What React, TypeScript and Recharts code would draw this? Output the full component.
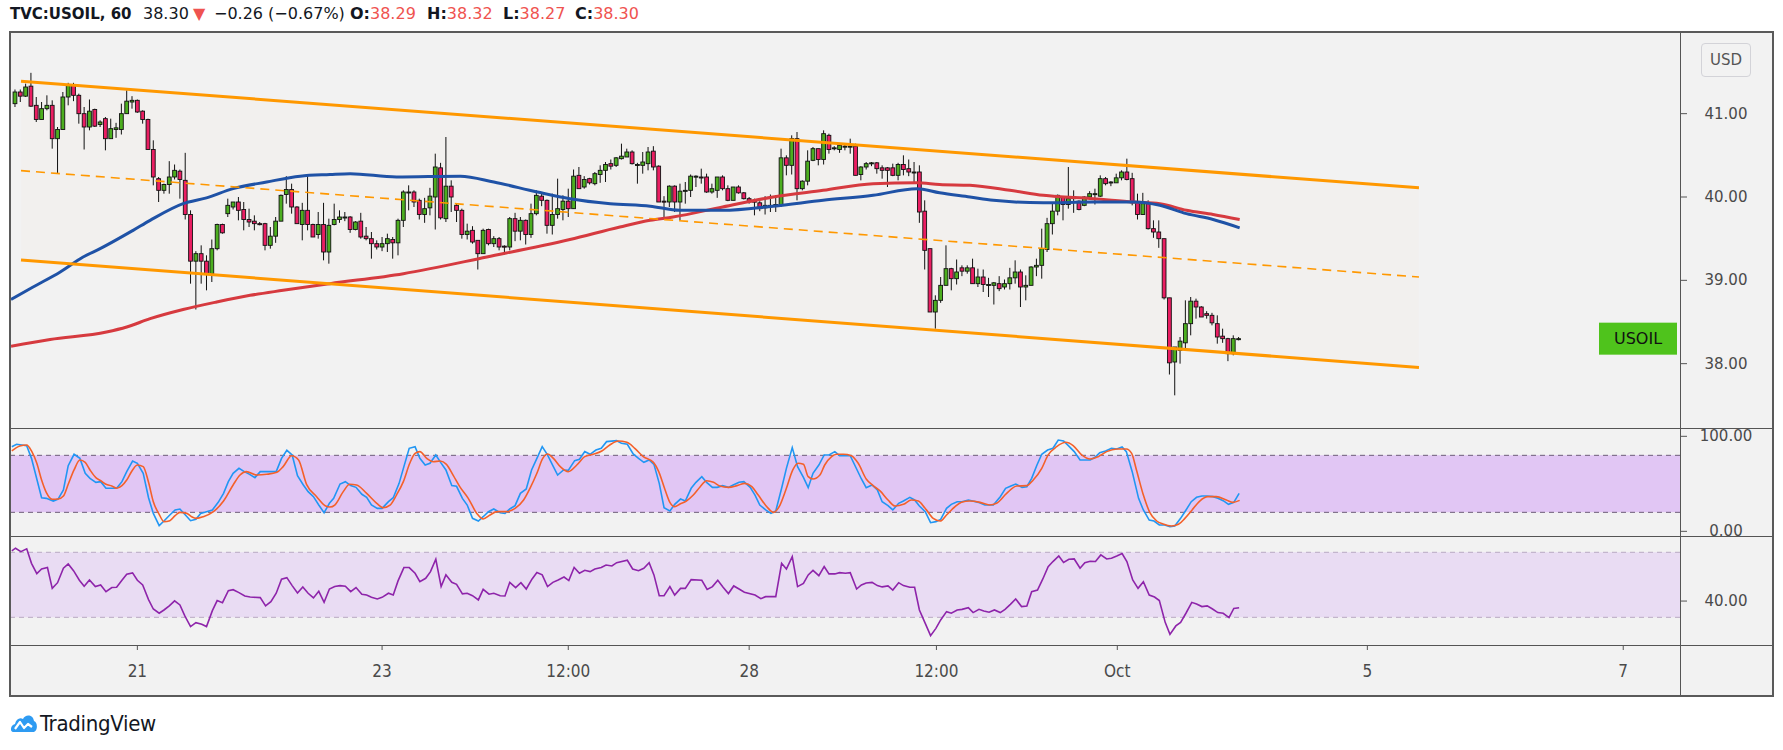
import React from 'react';
import { Area, Bar, ComposedChart, Line, ReferenceArea, ReferenceLine, XAxis, YAxis } from 'recharts';

// hourly candles, index 0 = first bar on the left
const opens = [
  41.12, 41.26, 41.21, 41.33, 41.1, 40.93, 41.06, 41.1, 40.7, 40.81,
  41.2, 41.34, 41.22, 41.0, 40.84, 41.05, 40.87, 40.94, 40.7, 40.81,
  40.81, 41.0, 41.14, 41.16, 41.03, 40.93, 40.57, 40.22, 40.08, 40.15,
  40.24, 40.31, 40.2, 39.79, 39.23, 39.32, 39.23, 39.08, 39.38, 39.67,
  39.8, 39.88, 39.94, 39.85, 39.73, 39.71, 39.68, 39.68, 39.42, 39.53,
  39.71, 40.03, 40.09, 39.88, 39.67, 39.84, 39.67, 39.55, 39.67, 39.34,
  39.67, 39.73, 39.75, 39.76, 39.61, 39.71, 39.53, 39.5, 39.44, 39.4,
  39.44, 39.49, 39.45, 39.72, 40.05, 40.06, 39.96, 39.79, 39.87, 40.0,
  40.35, 39.74, 40.13, 39.9, 39.84, 39.55, 39.6, 39.48, 39.32, 39.61,
  39.44, 39.5, 39.41, 39.4, 39.74, 39.59, 39.72, 39.55, 39.8, 40.01,
  39.96, 39.66, 39.79, 39.85, 39.95, 39.86, 40.26, 40.12, 40.22, 40.16,
  40.27, 40.32, 40.4, 40.38, 40.46, 40.48, 40.54, 40.38, 40.38, 40.4,
  40.55, 40.37, 39.95, 39.94, 40.13, 39.94, 40.07, 40.08, 40.24, 40.24,
  40.24, 40.06, 40.08, 40.24, 40.1, 39.96, 40.12, 40.05, 39.98, 39.95,
  39.93, 39.87, 39.9, 39.9, 39.9, 40.47, 40.38, 40.7, 40.1, 40.19,
  40.44, 40.58, 40.45, 40.74, 40.58, 40.57, 40.6, 40.6, 40.61, 40.27,
  40.36, 40.4, 40.41, 40.35, 40.35, 40.35, 40.26, 40.39, 40.34, 40.3,
  40.3, 39.83, 39.38, 38.62, 38.76, 38.94, 39.14, 39.02, 39.15, 39.11,
  39.15, 38.96, 39.04, 38.95, 38.94, 38.96, 38.92, 38.96, 39.03, 39.1,
  38.92, 38.94, 39.16, 39.18, 39.37, 39.68, 39.83, 40.0, 39.91, 39.98,
  39.95, 39.9, 40.0, 40.03, 40.01, 40.22, 40.17, 40.17, 40.23, 40.3,
  40.22, 39.94, 39.79, 39.92, 39.62, 39.58, 39.5, 38.79, 38.02, 38.16,
  38.25, 38.48, 38.75, 38.68, 38.6, 38.58, 38.48, 38.33, 38.3, 38.12,
  38.29,
];
const highs = [
  41.29, 41.29, 41.36, 41.49, 41.2, 41.14, 41.22, 41.16, 40.84, 41.26,
  41.37, 41.37, 41.24, 41.08, 41.17, 41.06, 40.92, 40.96, 40.94, 40.89,
  41.12, 41.28, 41.21, 41.17, 41.04, 40.94, 40.68, 40.24, 40.16, 40.43,
  40.39, 40.33, 40.53, 39.84, 39.35, 39.42, 39.3, 39.49, 39.68, 39.68,
  39.98, 39.94, 40.0, 39.94, 39.86, 39.78, 39.7, 39.69, 39.64, 39.76,
  40.03, 40.25, 40.16, 39.89, 39.93, 40.26, 39.68, 39.82, 39.93, 39.74,
  39.92, 39.84, 39.82, 39.77, 39.71, 39.81, 39.64, 39.58, 39.48, 39.52,
  39.56, 39.52, 39.74, 40.08, 40.14, 40.08, 39.98, 39.99, 40.11, 40.52,
  40.41, 40.72, 40.2, 39.92, 39.86, 39.68, 39.65, 39.48, 39.62, 39.62,
  39.53, 39.52, 39.42, 39.76, 39.81, 39.76, 39.73, 39.92, 40.08, 40.04,
  39.97, 40.04, 40.22, 40.02, 40.1, 40.33, 40.36, 40.25, 40.23, 40.3,
  40.38, 40.42, 40.45, 40.48, 40.64, 40.58, 40.56, 40.41, 40.54, 40.6,
  40.61, 40.38, 40.01, 40.14, 40.14, 40.16, 40.18, 40.27, 40.26, 40.34,
  40.28, 40.16, 40.24, 40.26, 40.14, 40.12, 40.14, 40.06, 40.0, 39.98,
  39.95, 40.01, 40.03, 40.02, 40.58, 40.5, 40.74, 40.78, 40.2, 40.56,
  40.6, 40.58, 40.8, 40.76, 40.61, 40.63, 40.64, 40.7, 40.64, 40.37,
  40.42, 40.42, 40.42, 40.38, 40.36, 40.4, 40.41, 40.5, 40.45, 40.42,
  40.38, 39.96, 39.38, 38.82, 39.04, 39.42, 39.15, 39.25, 39.18, 39.18,
  39.26, 39.14, 39.13, 39.03, 38.98, 39.05, 39.01, 39.15, 39.24, 39.13,
  39.06, 39.17, 39.26, 39.62, 39.75, 39.92, 40.03, 40.01, 40.36, 40.08,
  39.96, 40.01, 40.07, 40.1, 40.26, 40.24, 40.19, 40.28, 40.32, 40.46,
  40.29, 40.04, 40.05, 39.96, 39.72, 39.72, 39.5, 38.79, 38.2, 38.32,
  38.76, 38.8, 38.78, 38.69, 38.63, 38.61, 38.58, 38.42, 38.31, 38.34,
  38.32,
];
const lows = [
  41.08, 41.14, 41.2, 41.08, 40.9, 40.93, 41.04, 40.58, 40.28, 40.81,
  41.1, 41.15, 40.88, 40.57, 40.8, 40.84, 40.84, 40.56, 40.7, 40.71,
  40.75, 41.0, 41.06, 41.01, 40.88, 40.57, 40.14, 39.94, 40.04, 40.04,
  40.21, 39.98, 39.73, 38.96, 38.65, 38.96, 38.88, 38.98, 39.36, 39.56,
  39.76, 39.85, 39.72, 39.6, 39.64, 39.6, 39.66, 39.36, 39.38, 39.45,
  39.71, 39.92, 39.8, 39.68, 39.48, 39.6, 39.52, 39.5, 39.24, 39.2,
  39.66, 39.69, 39.71, 39.57, 39.6, 39.5, 39.48, 39.26, 39.37, 39.35,
  39.34, 39.26, 39.3, 39.64, 39.84, 39.88, 39.73, 39.69, 39.78, 39.61,
  39.73, 39.7, 39.82, 39.7, 39.5, 39.49, 39.44, 39.13, 39.32, 39.42,
  39.4, 39.36, 39.31, 39.36, 39.47, 39.48, 39.43, 39.51, 39.78, 39.89,
  39.56, 39.55, 39.74, 39.72, 39.76, 39.86, 40.1, 40.1, 40.15, 40.14,
  40.17, 40.18, 40.33, 40.36, 40.45, 40.48, 40.39, 40.16, 40.28, 40.32,
  40.32, 39.94, 39.74, 39.88, 39.82, 39.72, 39.92, 40.0, 40.12, 40.16,
  40.05, 40.04, 39.99, 40.08, 39.95, 39.96, 40.04, 39.97, 39.92, 39.78,
  39.83, 39.79, 39.82, 39.82, 39.88, 40.26, 40.27, 39.96, 40.08, 40.14,
  40.43, 40.38, 40.39, 40.52, 40.56, 40.53, 40.56, 40.52, 40.26, 40.2,
  40.33, 40.37, 40.28, 40.22, 40.12, 40.25, 40.2, 40.26, 40.25, 40.18,
  39.69, 39.13, 38.62, 38.42, 38.73, 38.94, 38.88, 38.95, 39.05, 39.08,
  38.96, 38.92, 38.86, 38.8, 38.71, 38.87, 38.89, 38.89, 38.96, 38.68,
  38.76, 38.94, 39.05, 39.02, 39.34, 39.55, 39.78, 39.72, 39.86, 39.81,
  39.84, 39.89, 39.98, 39.91, 40.0, 40.14, 40.13, 40.17, 40.2, 40.2,
  39.9, 39.73, 39.79, 39.61, 39.51, 39.39, 38.77, 37.87, 37.62, 38.0,
  38.18, 38.34, 38.54, 38.56, 38.54, 38.46, 38.24, 38.25, 38.03, 38.1,
  38.28,
];
const closes = [
  41.26, 41.21, 41.32, 41.09, 40.93, 41.06, 41.1, 40.7, 40.81, 41.2,
  41.34, 41.22, 41.0, 40.84, 41.03, 40.85, 40.9, 40.7, 40.82, 40.83,
  41.0, 41.15, 41.16, 41.02, 40.93, 40.57, 40.24, 40.08, 40.15, 40.24,
  40.32, 40.21, 39.79, 39.23, 39.32, 39.23, 39.08, 39.38, 39.67, 39.57,
  39.9, 39.94, 39.84, 39.73, 39.7, 39.68, 39.67, 39.42, 39.53, 39.71,
  40.02, 40.09, 39.88, 39.68, 39.84, 39.67, 39.52, 39.67, 39.34, 39.66,
  39.73, 39.76, 39.76, 39.61, 39.7, 39.52, 39.5, 39.44, 39.4, 39.44,
  39.5, 39.45, 39.72, 40.06, 40.06, 39.94, 39.79, 39.86, 40.01, 40.36,
  39.75, 40.13, 40.0, 39.84, 39.55, 39.59, 39.46, 39.32, 39.6, 39.44,
  39.5, 39.4, 39.4, 39.74, 39.59, 39.72, 39.55, 39.8, 40.02, 39.96,
  39.66, 39.79, 39.86, 39.95, 39.86, 40.25, 40.1, 40.21, 40.17, 40.28,
  40.32, 40.39, 40.37, 40.47, 40.49, 40.54, 40.4, 40.39, 40.42, 40.54,
  40.36, 39.94, 39.94, 40.13, 39.94, 40.07, 40.08, 40.25, 40.25, 40.23,
  40.06, 40.1, 40.24, 40.1, 39.96, 40.12, 40.05, 39.98, 39.94, 39.94,
  39.86, 39.9, 39.9, 39.91, 40.47, 40.38, 40.7, 40.1, 40.19, 40.43,
  40.58, 40.45, 40.76, 40.57, 40.59, 40.62, 40.61, 40.61, 40.26, 40.36,
  40.4, 40.41, 40.34, 40.32, 40.32, 40.26, 40.39, 40.33, 40.3, 40.3,
  39.82, 39.36, 38.62, 38.76, 38.94, 39.14, 39.02, 39.1, 39.11, 39.15,
  38.96, 39.04, 38.95, 38.95, 38.97, 38.9, 38.96, 39.03, 39.1, 38.92,
  38.94, 39.16, 39.18, 39.38, 39.68, 39.83, 40.02, 39.91, 39.98, 40.0,
  39.85, 40.0, 40.04, 40.04, 40.22, 40.16, 40.18, 40.23, 40.3, 40.21,
  39.93, 39.79, 39.92, 39.62, 39.58, 39.5, 38.79, 38.01, 38.2, 38.27,
  38.48, 38.75, 38.68, 38.56, 38.58, 38.49, 38.32, 38.3, 38.12, 38.3,
  38.3,
];

// moving averages, [bar index, value]
const maBlue = [
  [-0.75, 38.77], [3.4, 38.92], [8.5, 39.1], [12.8, 39.28], [16, 39.38], [22.2, 39.6], [25.4, 39.72],
  [31.6, 39.92], [36, 39.99], [41, 40.1], [47.3, 40.18], [53.6, 40.25], [59.2, 40.27], [63, 40.28],
  [71.7, 40.24], [83.7, 40.25], [90, 40.18], [98.2, 40.06], [104.3, 39.98], [111.9, 39.92], [119.4, 39.89],
  [125, 39.84], [133, 39.84], [142.5, 39.89], [151.9, 39.96], [161.3, 40.02], [169.5, 40.1], [173.8, 40.05],
  [179.5, 40.0], [183.9, 39.96], [193.3, 39.93], [202.7, 39.94], [210.2, 39.94], [215.2, 39.9], [220.2, 39.8],
  [225.2, 39.73], [230.2, 39.63],
];
const maRed = [
  [-0.75, 38.21], [6.6, 38.29], [17.2, 38.38], [21, 38.44], [25.4, 38.54], [31.6, 38.65], [37.9, 38.74],
  [44.2, 38.82], [50.4, 38.88], [59.2, 38.96], [73, 39.08], [88.7, 39.28], [104.3, 39.49], [113.7, 39.64],
  [119.4, 39.72], [123.7, 39.76], [133, 39.88], [142.5, 40.0], [151.9, 40.08], [161.3, 40.16], [169.5, 40.17],
  [173.8, 40.15], [179.5, 40.14], [187, 40.08], [193.3, 40.02], [202.7, 39.98], [210.2, 39.94], [215.2, 39.92],
  [220.2, 39.84], [225.2, 39.79], [230.2, 39.73],
];

// descending channel drawing: [bar index, price]
const channelTop = [[1.13, 41.39], [263.9, 40.11]];
const channelMid = [[1.13, 40.316], [263.9, 39.04]];
const channelLow = [[1.13, 39.244], [263.9, 37.955]];

const stochK = [
  [-0.6, 89.1], [0.3, 91.6], [2.2, 90.2], [3.1, 76.8], [5, 35.4], [5.9, 34.7], [7.2, 31.9], [8.1, 34], [9.1, 43.5],
  [10, 69.1], [11.1, 81.1], [12.2, 76.8], [13.2, 61.1], [14.1, 55.8], [15.2, 51.6], [16.1, 52.3], [17.1, 45.3],
  [18.2, 45.3], [19.1, 45.3], [20.1, 52.3], [21, 62.8], [22.1, 74], [23, 71.6], [24.1, 61.1], [25.1, 35.4],
  [26, 18.9], [27.1, 6], [28, 10.9], [29.1, 17.2], [30.1, 22.5], [31, 23.5], [31.9, 17.9], [33, 11.2], [34, 12.6],
  [34.9, 18.9], [36, 20.7], [37.1, 22.5], [38.2, 30.5], [39.2, 40], [40.1, 52.3], [41, 61.1], [42.1, 66.3],
  [43.1, 62.8], [44.1, 60], [45.1, 56.5], [46.1, 62.8], [47.1, 62.8], [48.1, 62.8], [49.1, 62.8], [50.1, 76.8],
  [51.1, 85.3], [52.1, 80.4], [53.1, 58.6], [54.2, 48.8], [55.1, 41.8], [56.1, 36.5], [57.1, 27.7], [58.1, 19.6],
  [59.1, 29.5], [59.9, 34.7], [61.1, 49.8], [62.1, 52.3], [63.1, 48.1], [64.1, 46.3], [65.2, 39], [66.1, 35.8],
  [67, 27.7], [68.1, 24.2], [69, 24.2], [70.2, 31.2], [71.1, 35.4], [72.2, 50.5], [73.1, 68.1], [74.1, 87.4],
  [75.2, 89.1], [76.1, 76.8], [77.1, 69.8], [78, 71.6], [79.1, 80.4], [80, 72.6], [81, 64.6], [82.1, 48.1],
  [83, 47.4], [84.1, 34.7], [85, 27.7], [86, 13.7], [87.1, 10.9], [88, 15.4], [89, 20.7], [90, 23.5], [91.2, 19.6],
  [92.1, 18.9], [93, 23.5], [94, 27], [95, 40], [96.1, 44.6], [97.1, 64.6], [98.1, 76.8], [99.1, 89.1],
  [100.1, 80.4], [101.1, 69.1], [102, 59.3], [103.1, 64.6], [104, 64.2], [105.2, 74.4], [106.1, 75.8],
  [107.1, 83.9], [108.1, 81.1], [109.2, 85.6], [110.2, 87.4], [111.2, 94.4], [113.1, 95.4], [114, 92.6],
  [115.1, 91.6], [116.2, 81.4], [117.2, 76.8], [118.2, 72.6], [119.2, 75.1], [120.1, 70.5], [121.1, 50.5],
  [122, 24.9], [123.1, 21.4], [124, 28.4], [125.1, 34], [126, 31.9], [127.1, 45.3], [128, 51.6], [129.1, 57.5],
  [130, 51.6], [131.1, 46.3], [132, 46.3], [133, 48.1], [134.1, 46.3], [135, 48.8], [136.1, 51.6], [137, 52.3],
  [138.2, 46.3], [139.1, 38.2], [140, 27.7], [141.1, 22.5], [142.1, 18.9], [143, 21.4], [144.1, 45.3], [145, 66.3],
  [146.1, 88.1], [147.1, 68.1], [148.2, 56.8], [149.1, 46], [150, 61.1], [151.1, 69.8], [152.1, 80.4], [153, 80.4],
  [154.1, 83.9], [155, 79.6], [156.1, 79.6], [157, 79.6], [158.2, 65.6], [159.1, 55.1], [160, 46], [161.1, 48.8],
  [162.1, 43.5], [163, 31.2], [164.1, 27], [165, 22.5], [166.1, 29.5], [167, 31.9], [168.2, 35.8], [169.1, 33],
  [170, 26.7], [171.1, 20.7], [172.1, 9.1], [173.1, 10.2], [174, 12.6], [175.1, 24.2], [176, 28.4], [177.1, 31.2],
  [178, 31.2], [179.2, 33], [181.1, 30.5], [182.3, 27.7], [183.9, 27.7], [185.2, 36.5], [186.2, 45.3],
  [187.2, 47.7], [188.1, 49.8], [189.3, 46.3], [190.2, 47], [191.1, 55.8], [192.1, 69.8], [193, 81.1],
  [194.1, 85.6], [195.1, 87.4], [196.1, 96.1], [197.1, 95.1], [198, 90.2], [199.1, 83.9], [200.2, 75.1],
  [202.1, 75.1], [203, 77.9], [203.9, 82.8], [205, 84.6], [206.1, 87.4], [207.1, 86.7], [208.1, 88.8],
  [208.9, 83.9], [210, 62.8], [211.2, 34.7], [212.1, 22.5], [213.2, 11.9], [214.1, 10.9], [215.1, 6.7],
  [216.1, 6.7], [217.1, 4.9], [218, 5.6], [219.1, 13.7], [220, 21.4], [221.1, 31.2], [222.1, 35.8], [223.1, 37.2],
  [224, 37.2], [225.2, 36.5], [226.1, 34.7], [227.1, 32.3], [228.1, 28.4], [229.1, 30.5], [230.1, 40],
];
const stochD = [
  [-0.6, 84.6], [0.9, 89.8], [2.2, 90.9], [3.1, 84.6], [4.1, 71.6], [5, 54], [5.9, 40.7], [7, 33.7], [8.1, 34],
  [9.1, 37.2], [10, 49.5], [11.1, 64.6], [12.2, 75.1], [13.2, 72.6], [14.1, 64.6], [15.2, 56.5], [16.1, 53.3],
  [17.1, 49.5], [18.2, 47.7], [19.1, 45.3], [20.1, 48.1], [21, 54], [22.1, 64.6], [23, 69.8], [24.1, 68.1],
  [25.1, 51.6], [26, 31.2], [27.1, 17.9], [28, 10.2], [29.1, 11.2], [30.1, 16.5], [31, 20], [32.3, 18.9],
  [33.2, 15.4], [34.1, 13.7], [35.4, 15.4], [37.3, 20.7], [39.2, 31.9], [41, 48.8], [42.3, 59.3], [43.5, 62.8],
  [45.4, 59.3], [47.3, 60], [49.2, 62.1], [50.4, 68.1], [52, 79.6], [53.3, 75.1], [54.8, 49.5], [56.7, 36.5],
  [58.3, 27], [59.2, 25.6], [60.1, 27.7], [61.7, 41.8], [62.9, 49.5], [64.2, 48.8], [66.1, 40], [68, 29.5],
  [69.2, 24.9], [70.5, 27.7], [71.7, 38.2], [73, 52.3], [74.2, 71.6], [75.2, 82.1], [76.1, 83.9], [77.4, 76.8],
  [78.6, 73.3], [79.9, 74], [81.1, 70.5], [82.4, 58.6], [83.6, 47], [85.2, 34.7], [86.8, 18.9], [88, 13],
  [89.3, 17.2], [90.6, 20.7], [92.4, 20.7], [94, 24.2], [95.6, 33], [96.8, 45.3], [98.1, 61.1], [99.2, 76.8],
  [100.1, 81.4], [101.2, 76.8], [102.5, 68.1], [104, 62.8], [105.6, 69.8], [107.1, 78.6], [108.7, 81.1],
  [110.3, 84.6], [111.8, 90.9], [113.4, 95.1], [115, 93.7], [116.5, 87.4], [118.1, 78.6], [120, 72.6],
  [121, 62.8], [122.2, 43.5], [123.1, 30.5], [124, 26], [125, 28.8], [126.2, 31.9], [127.5, 38.2], [128.8, 47],
  [130, 53.3], [131.3, 51.6], [132.5, 47.7], [134.1, 46.3], [135.7, 48.1], [137.2, 50.5], [138.5, 47],
  [139.7, 38.2], [141.3, 26], [142.6, 20], [143.8, 27.7], [145, 45.3], [146.2, 64.6], [147.2, 71.6],
  [148.2, 70.5], [149.1, 57.5], [150, 55.1], [151.3, 59.3], [152.2, 69.8], [153.5, 78.6], [154.4, 81.1],
  [155.7, 81.1], [157.2, 79.6], [158.5, 71.6], [160, 55.1], [161.3, 48.1], [162.6, 42.5], [164.1, 33],
  [165.4, 26.7], [167, 28.4], [168.5, 33], [169.8, 31.9], [171, 24.9], [172.6, 13.7], [173.9, 10.9],
  [175.1, 17.2], [176.7, 26], [177.9, 30.5], [179.5, 31.9], [181.4, 30.5], [183.2, 27.7], [184.5, 29.5],
  [186.4, 40], [188.3, 47.7], [190.2, 48.1], [191.4, 54], [193, 66.3], [194.2, 80.4], [195.8, 89.1],
  [197.5, 93.7], [198.9, 90.2], [200.5, 80.4], [202.1, 76.1], [203.6, 78.6], [205.2, 83.9], [207.1, 86.7],
  [208.9, 86.7], [209.9, 82.1], [210.8, 64.6], [212.1, 38.2], [213.3, 20], [214.6, 10.9], [215.8, 7.7],
  [217.4, 5.6], [218.7, 7.4], [219.9, 13.7], [221.1, 21.4], [222.7, 31.9], [224.2, 36.5], [225.8, 36.5],
  [227.7, 33], [228.9, 30.5], [230.2, 32.6],
];
const rsi = [
  [-0.6, 70.8], [0.1, 72.5], [1.1, 70.4], [2.2, 72.1], [3.1, 63.2], [4.1, 56.9], [5, 59.7], [6.1, 60.6], [7, 47.8],
  [8, 51.3], [9.1, 60.2], [10, 62.8], [11, 58.7], [12.1, 52.8], [13, 49.1], [14, 53], [15.1, 48.9], [16.1, 49.9],
  [17.1, 45.8], [18.2, 48.3], [19.1, 48.5], [20.1, 52.8], [21, 56.5], [22.1, 57.3], [23, 52.8], [24, 49.9],
  [25.1, 40.9], [26, 35.1], [27.1, 32.5], [28, 34.5], [29, 37], [30, 40.1], [31, 37.6], [31.9, 31], [33, 24.3],
  [34, 26.7], [35.1, 25.7], [36, 24.3], [37.1, 34.1], [38, 40.3], [39, 39], [40.1, 46.4], [41, 47], [42.1, 45.2],
  [43.2, 43.1], [44.2, 42.5], [46.1, 42.1], [47.1, 37], [48.1, 39.6], [49.1, 44.8], [50.1, 53.4], [51.1, 54.4],
  [52.1, 49.5], [53.1, 45], [54.1, 48.7], [55.1, 44.8], [56.1, 41.9], [57.1, 46], [58.1, 39.2], [59.1, 47.4],
  [60.1, 48.9], [61.1, 49.5], [62.1, 49.1], [63.1, 45.8], [64.1, 48.3], [65.2, 44.2], [66.1, 43.7], [67, 42.3],
  [68.1, 41.3], [69, 42.3], [70.2, 44.8], [71.1, 43.7], [72, 52.4], [73.1, 60.6], [74.1, 60.6], [75.2, 57.1],
  [76.1, 51.9], [77.2, 54], [78.1, 58.1], [79.1, 65.7], [80.1, 48.9], [81, 56.1], [82.1, 51.5], [83, 50.3],
  [84.1, 44.4], [85, 44.8], [86, 43.3], [87.1, 40.7], [88, 47.2], [89.1, 44.2], [90, 44.8], [91.2, 43.3],
  [92.1, 43.1], [93, 51.5], [94.1, 48.3], [95.1, 51.3], [96.1, 47.4], [97.2, 53.6], [98.1, 57.5], [99.1, 56.1],
  [100.1, 48.9], [101.1, 51.5], [102.1, 53], [103.2, 54.8], [104.1, 52.6], [105.1, 60.6], [106.1, 57.1],
  [107.1, 58.9], [108.1, 58.1], [109, 59.7], [110.2, 60.6], [111.1, 62.2], [112.2, 61.6], [113.1, 63.6],
  [115.1, 65.1], [116.1, 59.7], [117.2, 58.7], [118.2, 60.2], [119.2, 63.6], [120.1, 56.1], [121.1, 43.3],
  [122, 43.3], [123.1, 48.9], [124, 43.7], [125.1, 47.8], [126, 47.8], [127.1, 53.2], [129.1, 52.8],
  [130.1, 47.2], [131.1, 48.9], [132.1, 52.8], [133.1, 48.5], [134.1, 44.6], [135.1, 49.3], [136.1, 47.4],
  [137.1, 45.4], [139.1, 43.7], [140.2, 41.5], [141.1, 42.7], [143, 42.7], [144.1, 63.2], [145, 59.7],
  [146.1, 67.3], [147.1, 48.9], [148.2, 50.9], [149.1, 56.1], [150, 58.9], [151.1, 55.6], [152.1, 61.2],
  [153, 56.7], [154.1, 56.7], [155, 57.5], [156.1, 57.1], [157, 57.5], [158.2, 47.4], [159.1, 49.9], [160, 51.1],
  [161.1, 51.5], [162.1, 49.5], [163, 48.7], [164.1, 49.3], [165, 46.8], [166.1, 51.3], [167, 49.5],
  [168.2, 48.5], [169.1, 48.5], [170, 34.5], [171.1, 26.3], [172.1, 18.7], [173.1, 23.2], [174, 28.4],
  [175.1, 33.5], [176, 32.5], [177.1, 34.5], [178, 34.9], [179.2, 35.9], [180.1, 32.9], [181.2, 34.9],
  [182.1, 33.9], [183.1, 33.1], [184.1, 34.5], [185.2, 32.9], [186.1, 34.9], [187.1, 38], [188.1, 41.3],
  [189.2, 36.6], [190.2, 37], [191.1, 45.8], [192.2, 46.8], [193.2, 53.6], [194.2, 61.2], [195.1, 64.3],
  [196.2, 67.7], [197.1, 63.8], [198.1, 65.7], [199.1, 65.9], [200.2, 60.2], [201.1, 63.6], [202.1, 64.5],
  [203.1, 64.3], [204.1, 68.4], [205.2, 65.9], [206.1, 66.3], [207.1, 67.7], [208.1, 69.2], [209, 64.3],
  [210.1, 53], [211.1, 47.8], [212.1, 51.9], [213.2, 43.7], [214.2, 42.5], [215.1, 40.3], [216.2, 26.9],
  [217.1, 19.5], [218.2, 24.7], [219.1, 26.9], [220.1, 32.5], [221.2, 39.2], [222.1, 38.2], [223.1, 36.6],
  [224.1, 37], [225.1, 35.1], [226.1, 32.9], [227.1, 32.5], [228.2, 29.8], [229.1, 35.5], [230.1, 35.9],
];

const timeTicks = [23, 69, 104, 138, 173.2, 207.2, 254.2, 302.3];
const timeLabels = ['21', '23', '12:00', '28', '12:00', 'Oct', '5', '7'];
const priceTicks = [38, 39, 40, 41];
const stochTicks = [0, 100];
const rsiTicks = [40];
const lastPrice = 38.3;

const X_DOMAIN: [number, number] = [-0.752, 312.97];
const GREEN = '#4cae1f';
const RED = '#ea1e62';
const AXIS_FONT = '"DejaVu Sans", sans-serif';
const PLOT_W = 1669;

const candles = opens.map((o, i) => ({ i, o, h: highs[i], l: lows[i], c: closes[i], range: [lows[i], highs[i]] }));
const pts = (arr: number[][]) => arr.map(([i, v]) => ({ i, v }));
const seg = (arr: number[][]) => arr.map(([x, y]) => ({ x, y }));
const channelFill = channelTop.map(([i, hi], k) => ({ i, band: [channelLow[k][1], hi] }));

const Candle = (props: any) => {
  const { x, y, width, height, payload } = props;
  if (!payload) return null;
  const { o, h, l, c } = payload;
  const top = height < 0 ? y + height : y;
  const hh = Math.abs(height);
  const k = hh / (h - l);
  const cx = x + width / 2;
  const bTop = top + (h - Math.max(o, c)) * k;
  const bBot = top + (h - Math.min(o, c)) * k;
  return (
    <g>
      <line x1={cx} x2={cx} y1={top} y2={top + hh} stroke="#111" strokeWidth={1} />
      <rect x={cx - 1.9} y={bTop} width={3.8} height={Math.max(bBot - bTop, 1)} fill={c >= o ? GREEN : RED} stroke="#111" strokeWidth={0.9} />
    </g>
  );
};

const makeValueTick = (digits: number) => (props: any) => {
  const { y, payload } = props;
  return (
    <g>
      <line x1={PLOT_W} x2={PLOT_W + 7} y1={y} y2={y} stroke="#555" strokeWidth={1} />
      <text x={PLOT_W + 46} y={y} textAnchor="middle" dominantBaseline="central" fontSize={15} fontFamily={AXIS_FONT} fill="#4a4a4a">
        {Number(payload.value).toFixed(digits)}
      </text>
    </g>
  );
};

const TimeTick = (props: any) => {
  const { x, payload } = props;
  const idx = timeTicks.indexOf(payload.value);
  return (
    <g>
      <line x1={x} x2={x} y1={108} y2={113} stroke="#555" strokeWidth={1} />
      <text x={x} y={134} textAnchor="middle" dominantBaseline="central" fontSize={17} fontFamily={'"DejaVu Sans Condensed", "DejaVu Sans", sans-serif'} fill="#4a4a4a">
        {timeLabels[idx]}
      </text>
    </g>
  );
};

const LastLabel = (props: any) => {
  const vb = props.viewBox || {};
  const right = (vb.x || 0) + (vb.width || PLOT_W);
  return (
    <g>
      <rect x={right - 81} y={vb.y - 16} width={78} height={32} fill="#4fc31c" />
      <text x={right - 42} y={vb.y} textAnchor="middle" dominantBaseline="central" fontSize={16} fontFamily={AXIS_FONT} fill="#111">
        USOIL
      </text>
    </g>
  );
};

const line = (l: number, t: number, w: number, h: number, c = '#555'): React.CSSProperties => ({
  position: 'absolute', left: l, top: t, width: w, height: h, background: c, zIndex: 5,
});

const hdr = (left: number): React.CSSProperties => ({ position: 'absolute', left, top: 0, whiteSpace: 'pre' });
const red = { color: '#ef5350' };

export default function App() {
  return (
    <div style={{ position: 'absolute', left: 0, top: 0, width: 1783, height: 750, background: '#fff', overflow: 'hidden' }}>
      <div style={{ position: 'absolute', left: 0, top: 0, width: 900, height: 28, lineHeight: '28px', fontSize: 16, fontFamily: AXIS_FONT, color: '#131722' }}>
        <span style={{ ...hdr(10), fontWeight: 700, fontSize: 15 }}>TVC:USOIL, 60</span>
        <span style={hdr(143)}>38.30</span>
        <span style={{ ...hdr(193), ...red }}>▼</span>
        <span style={hdr(214)}>−0.26 (−0.67%)</span>
        <span style={hdr(350)}><b>O:</b><span style={red}>38.29</span></span>
        <span style={hdr(427)}><b>H:</b><span style={red}>38.32</span></span>
        <span style={hdr(503)}><b>L:</b><span style={red}>38.27</span></span>
        <span style={hdr(575)}><b>C:</b><span style={red}>38.30</span></span>
      </div>

      <div style={{ position: 'absolute', left: 9, top: 31, width: 1761, height: 662, border: '2px solid #5a5a5a', background: '#f2f2f2' }} />

      <div style={{ position: 'absolute', left: 11, top: 33, width: 1761, height: 395, overflow: 'hidden' }}>
        <ComposedChart width={1761} height={395} data={candles} margin={{ top: 0, right: 0, bottom: 0, left: 0 }}>
          <XAxis dataKey="i" type="number" domain={X_DOMAIN} allowDataOverflow hide />
          <YAxis orientation="right" width={92} type="number" domain={[37.228, 41.968]} allowDataOverflow ticks={priceTicks} interval={0} axisLine={false} tickLine={false} tick={makeValueTick(2)} />
          <Area data={channelFill} dataKey="band" type="linear" stroke="none" fill="#ff9800" fillOpacity={0.015} isAnimationActive={false} />
          <Line data={pts(maRed)} dataKey="v" type="monotone" stroke="#d63a3f" strokeWidth={3} dot={false} isAnimationActive={false} />
          <Line data={pts(maBlue)} dataKey="v" type="monotone" stroke="#1f52a6" strokeWidth={3} dot={false} isAnimationActive={false} />
          <Bar dataKey="range" barSize={4} shape={Candle} isAnimationActive={false} />
          <ReferenceLine segment={seg(channelTop)} stroke="#ff9800" strokeWidth={3} />
          <ReferenceLine segment={seg(channelMid)} stroke="#ff9800" strokeWidth={1.6} strokeDasharray="9 6" />
          <ReferenceLine segment={seg(channelLow)} stroke="#ff9800" strokeWidth={3} />
          <ReferenceLine y={lastPrice} stroke="none" label={LastLabel} />
        </ComposedChart>
      </div>

      <div style={{ position: 'absolute', left: 11, top: 419, width: 1761, height: 117, overflow: 'hidden', zIndex: 6 }}>
        <ComposedChart width={1761} height={117} margin={{ top: 10, right: 0, bottom: 0, left: 0 }}>
          <XAxis dataKey="i" type="number" domain={X_DOMAIN} allowDataOverflow hide />
          <YAxis orientation="right" width={92} type="number" domain={[-4.9, 107.7]} allowDataOverflow ticks={stochTicks} interval={0} axisLine={false} tickLine={false} tick={makeValueTick(2)} />
          <ReferenceArea y1={20} y2={80} fill="#e1c6f4" fillOpacity={1} stroke="none" />
          <ReferenceLine y={80} stroke="#6e5d79" strokeDasharray="5 4" />
          <ReferenceLine y={20} stroke="#6e5d79" strokeDasharray="5 4" />
          <Line data={pts(stochK)} dataKey="v" type="linear" stroke="#2196f3" strokeWidth={1.6} dot={false} isAnimationActive={false} />
          <Line data={pts(stochD)} dataKey="v" type="monotone" stroke="#f4602a" strokeWidth={1.6} dot={false} isAnimationActive={false} />
        </ComposedChart>
      </div>

      <div style={{ position: 'absolute', left: 11, top: 537, width: 1761, height: 158, overflow: 'hidden' }}>
        <ComposedChart width={1761} height={158} margin={{ top: 0, right: 0, bottom: 0, left: 0 }}>
          <XAxis dataKey="i" type="number" domain={X_DOMAIN} allowDataOverflow height={50} ticks={timeTicks} interval={0} axisLine={false} tickLine={false} tick={TimeTick} />
          <YAxis orientation="right" width={92} type="number" domain={[12.97, 79.4]} allowDataOverflow ticks={rsiTicks} interval={0} axisLine={false} tickLine={false} tick={makeValueTick(2)} />
          <ReferenceArea y1={30} y2={70} fill="#e9dcf3" fillOpacity={1} stroke="none" />
          <ReferenceLine y={70} stroke="#b8a9c2" strokeDasharray="5 4" />
          <ReferenceLine y={30} stroke="#b8a9c2" strokeDasharray="5 4" />
          <Line data={pts(rsi)} dataKey="v" type="linear" stroke="#8e24aa" strokeWidth={1.6} dot={false} isAnimationActive={false} />
        </ComposedChart>
      </div>

      <div style={line(11, 428, 1761, 1)} />
      <div style={line(11, 536, 1761, 1)} />
      <div style={line(11, 645, 1761, 1)} />
      <div style={line(1680, 33, 1, 662)} />

      <div style={{ position: 'absolute', left: 1701, top: 43, width: 48, height: 32, border: '1px solid #d3d3d8', borderRadius: 4, textAlign: 'center', lineHeight: '32px', fontSize: 15, fontFamily: AXIS_FONT, color: '#555', zIndex: 6 }}>
        USD
      </div>

      <div style={{ position: 'absolute', left: 11, top: 709, height: 28, display: 'flex', alignItems: 'center' }}>
        <svg width={26} height={22} viewBox="0 0 26 22">
          <path d="M2 20 C-1 20 -1 13 4 12 C5 7 9 5 12 7 C14 2 22 2 23 9 C27 10 27 20 22 20 Z" fill="#2e9bf2" />
          <polyline points="4,17 9,10 13,16 17,12 21,15" fill="none" stroke="#fff" strokeWidth={2.2} strokeLinejoin="round" />
        </svg>
        <span style={{ marginLeft: 3, fontSize: 22, fontFamily: '"DejaVu Sans Condensed", "Roboto", sans-serif', color: '#131722', letterSpacing: -0.3 }}>TradingView</span>
      </div>
    </div>
  );
}
